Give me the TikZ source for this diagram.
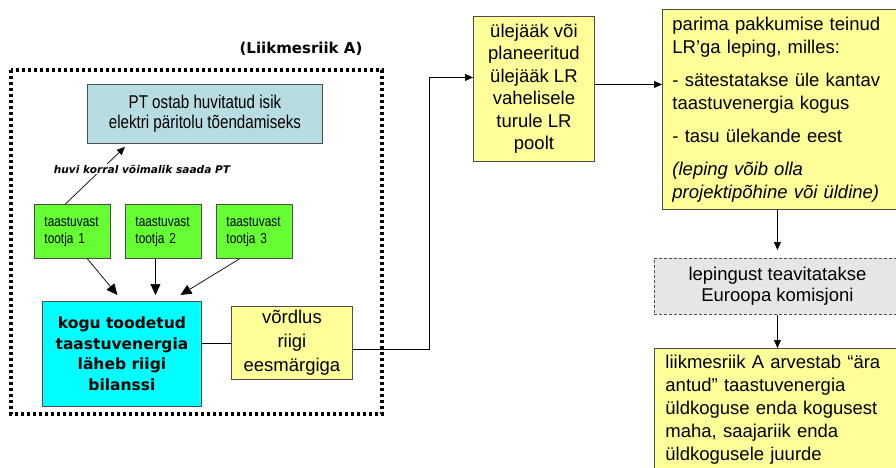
\documentclass[tikz,border=0pt]{standalone}
\usepackage{fontspec}
\setmainfont{Liberation Sans}
\newfontfamily\narrowfont[FakeStretch=0.82]{Liberation Sans}
\newfontfamily\verdfont{DejaVu Sans}
\usetikzlibrary{arrows.meta}
\definecolor{ptblue}{HTML}{B7DDE2}
\definecolor{prodgreen}{HTML}{66FF33}
\definecolor{balcyan}{HTML}{00FFFF}
\definecolor{noteyellow}{HTML}{FFFF99}
\definecolor{infogrey}{HTML}{E6E6E6}

\begin{document}
\begin{tikzpicture}[x=1pt,y=-1pt,
    box/.style={draw=black!70, line width=0.9pt, anchor=north west, inner sep=0pt},
    big/.style={font=\fontsize{18.5}{23}\selectfont},
    arr/.style={-{Triangle[length=8pt,width=7pt]}, line width=0.7pt},
    bigarr/.style={-{Triangle[length=11pt,width=10pt]}, line width=0.7pt}]
\useasboundingbox (0,0) rectangle (896,468);
\clip (0,0) rectangle (896,468);
% liikmesriik A
\draw[line width=3.4pt, dash pattern=on 3.4pt off 2.6pt] (11,70) rectangle (382,414);
\node[font=\verdfont\bfseries\fontsize{15}{18}\selectfont] (LA) at (301,49) {(Liikmesriik A)};
\node[box, fill=ptblue, minimum width=235, minimum height=59, align=center,
      font=\narrowfont\fontsize{18.5}{19.5}\selectfont] (PT) at (87,84)
      {PT ostab huvitatud isik\\elektri päritolu tõendamiseks};
\foreach \x [count=\i] in {34,125,216}
    \node[box, fill=prodgreen, minimum width=76, minimum height=54, text width=56,
          inner xsep=10pt, align=left, font=\narrowfont\fontsize{14.5}{17}\selectfont]
          (T\i) at (\x,204) {taastuvast\\tootja \i};
\node[box, fill=balcyan, minimum width=159, minimum height=105, align=center,
      font=\verdfont\bfseries\fontsize{15.5}{20.5}\selectfont] (K) at (42,301)
      {kogu toodetud\\taastuvenergia\\läheb riigi\\bilanssi};
\node[box, fill=noteyellow, minimum width=121, minimum height=73, align=center,
      font=\fontsize{18.5}{24}\selectfont] (V) at (231,306) {võrdlus\\riigi\\eesmärgiga};
% kanne teisele liikmesriigile
\node[box, fill=noteyellow, minimum width=121, minimum height=145, align=center,
      font=\fontsize{18.5}{22.5}\selectfont] (U) at (473,16)
      {ülejääk või\\planeeritud\\ülejääk LR\\vahelisele\\turule LR\\poolt};
\node[box, fill=noteyellow, minimum height=200, text width=228, inner xsep=10pt,
      align=left, big] (P) at (662,9)
      {parima pakkumise teinud\\LR’ga leping, milles:\\[10pt]
       - sätestatakse üle kantav\\taastuvenergia kogus\\[10pt]
       - tasu ülekande eest\\[10pt]
       \textit{(leping võib olla}\\\textit{projektipõhine või üldine)}};
\node[box, fill=infogrey, dash pattern=on 3pt off 2pt, minimum width=246, minimum height=56,
      align=center, font=\fontsize{18.5}{21.5}\selectfont] (E) at (654,258)
      {lepingust teavitatakse\\Euroopa komisjoni};
\node[box, fill=noteyellow, text width=233, inner xsep=11pt, inner ysep=7pt,
      align=left, big] (A) at (654,348)
      {liikmesriik A arvestab “ära\\antud” taastuvenergia\\üldkoguse enda kogusest\\maha, saajariik enda\\üldkogusele juurde\\[20pt]};
% noolte osa
\draw[arr] ([xshift=-7pt]T1.north) -- ([xshift=-80pt,yshift=-3pt]PT.south);
\node[fill=white, inner sep=1pt, font=\verdfont\bfseries\itshape\fontsize{10.6}{12}\selectfont]
      (H) at (142,169) {huvi korral võimalik saada PT};
\draw[bigarr] ([xshift=15pt]T1.south) -- ([xshift=-4.5pt,yshift=6pt]K.north);
\draw[bigarr] ([xshift=-8pt]T2.south) -- ([xshift=33.5pt,yshift=6pt]K.north);
\draw[bigarr] ([xshift=-15pt]T3.south) -- ([xshift=58.5pt,yshift=6pt]K.north);
\draw[line width=0.7pt] (V.west) -- (V.west -| K.east);
\draw[arr] ([yshift=-6pt]V.east) -- ++(76,0) |- ([yshift=11.5pt]U.west);
\draw[arr] ([yshift=4.5pt]U.east) -- ([yshift=4.5pt]U.east -| P.west);
\draw[arr, shorten >=8pt] (P.south -| E.north) -- (E.north);
\draw[arr] (E.south) -- (E.south |- A.north);
\end{tikzpicture}
\end{document}
